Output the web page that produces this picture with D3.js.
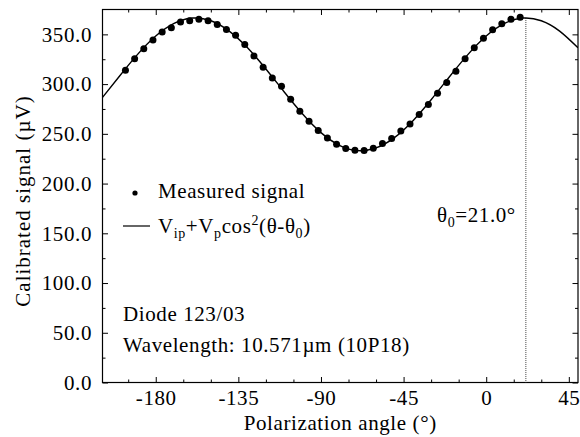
<!DOCTYPE html>
<html>
<head>
<meta charset="utf-8">
<script src="https://cdn.jsdelivr.net/npm/d3@7"></script>
<style>
  body { margin: 0; background: #fff; }
  svg { display: block; font-family: "Liberation Serif", "Times New Roman", serif; }
  svg text { letter-spacing: 0.6px; }
</style>
</head>
<body>
<svg id="chart" width="580" height="437"></svg>
<script>
// measured points (angle in deg, signal in µV)
const pointAngles = [-196.5,-191.5,-186.5,-181.5,-176.5,-171.5,-166.5,-161.5,-156.5,-151.5,
  -146.5,-141.5,-136.5,-131.5,-126.5,-121.5,-116.5,-111.5,-106.5,-101.5,
  -96.5,-91.5,-86.5,-81.5,-76.5,-71.5,-66.5,-61.5,-56.5,-51.5,
  -46.5,-41.5,-36.5,-31.5,-26.5,-21.5,-16.5,-11.5,-6.5,-1.5,
  3.5,8.5,13.5,18.5];
const pointValues = [313.8,325.6,335.6,344.3,352.3,356.7,362.4,363.8,365.1,363.8,
  360.0,355.0,349.0,339.7,328.2,316.9,306.1,297.8,284.7,272.7,
  262.6,253.3,245.9,239.5,235.2,233.5,233.2,235.5,240.2,245.3,
  252.9,259.9,269.4,279.4,290.7,301.5,312.8,325.6,336.6,346.0,
  354.7,360.7,365.1,367.1];

// fitted curve, sampled off the figure
const fitAngles = [-209,-200,-190,-180,-170,-160,-150,-140,-130,-120,-110,-100,-90,
  -80,-70,-60,-50,-40,-30,-20,-10,0,10,20,30,40,50];
const fitValues = [286.6,307.4,329.6,348.3,361.0,366.4,363.7,353.3,336.5,315.2,292.1,269.9,251.2,
  238.5,233.1,235.8,246.2,263.0,284.3,307.4,329.6,348.3,361.0,366.4,363.7,353.3,336.5];

const theta0Pos = 21.6;   // where the dotted line sits
const theta0Top = 366.4;

const xMajor = [-180,-135,-90,-45,0,45];
const xMinor = [-195,-165,-150,-120,-105,-75,-60,-30,-15,15,30];
const yMajor = [0,50,100,150,200,250,300,350];
const yMinor = [25,75,125,175,225,275,325];

const L = 102.5, R = 578, T = 9.5, B = 382.5;
const FS = 21;
const SERIF = '"Liberation Serif", "Times New Roman", serif';

const svg = d3.select('#chart');
const x = d3.scaleLinear().domain([-209, 50]).range([L, R]);
const y = d3.scaleLinear().domain([0, 375]).range([B, T]);

// ticks, all pointing inward
function ticks(axisFn, scale, vals, size, pos, labels) {
  const ax = axisFn(scale).tickValues(vals).tickSizeInner(-size).tickSizeOuter(0);
  if (!labels) ax.tickFormat('');
  const g = svg.append('g').attr('transform', pos).call(ax);
  g.select('.domain').remove();
  g.selectAll('line').attr('stroke', '#000').attr('stroke-width', 1);
  return g;
}

const xb = svg.append('g').attr('transform', `translate(0,${B})`)
  .call(d3.axisBottom(x).tickValues(xMajor).tickSizeInner(-5.5).tickSizeOuter(0)
    .tickFormat(d => String(d)));
xb.select('.domain').remove();
xb.attr('font-family', SERIF);
xb.selectAll('line').attr('stroke', '#000');
xb.selectAll('text').attr('y', 22.5).attr('dy', 0)
  .attr('font-size', FS).attr('fill', '#000').attr('font-family', SERIF);
ticks(d3.axisBottom, x, xMinor, 3, `translate(0,${B})`, false);
ticks(d3.axisTop, x, xMajor, 5.5, `translate(0,${T})`, false);
ticks(d3.axisTop, x, xMinor, 3, `translate(0,${T})`, false);

const yl = svg.append('g').attr('transform', `translate(${L},0)`)
  .call(d3.axisLeft(y).tickValues(yMajor).tickSizeInner(-5.5).tickSizeOuter(0)
    .tickPadding(10.5).tickFormat(d3.format('.1f')));
yl.select('.domain').remove();
yl.attr('font-family', SERIF);
yl.selectAll('line').attr('stroke', '#000');
yl.selectAll('text').attr('font-size', FS).attr('fill', '#000').attr('font-family', SERIF);
ticks(d3.axisLeft, y, yMinor, 3, `translate(${L},0)`, false);
ticks(d3.axisRight, y, yMajor, 5.5, `translate(${R},0)`, false);
ticks(d3.axisRight, y, yMinor, 3, `translate(${R},0)`, false);

// frame
svg.append('rect').attr('x', L).attr('y', T).attr('width', R - L).attr('height', B - T)
  .attr('fill', 'none').attr('stroke', '#000').attr('stroke-width', 1.2);

svg.append('clipPath').attr('id', 'clip')
  .append('rect').attr('x', L).attr('y', T).attr('width', R - L).attr('height', B - T);

// dotted marker at theta0
svg.append('line')
  .attr('x1', x(theta0Pos)).attr('x2', x(theta0Pos))
  .attr('y1', y(theta0Top)).attr('y2', B)
  .attr('stroke', '#444').attr('stroke-width', 1).attr('stroke-dasharray', '1,1');

// fit curve
const fit = fitAngles.map((a, i) => [a, fitValues[i]]);
svg.append('path').datum(fit)
  .attr('clip-path', 'url(#clip)')
  .attr('fill', 'none').attr('stroke', '#000').attr('stroke-width', 1.4)
  .attr('d', d3.line().x(d => x(d[0])).y(d => y(d[1])).curve(d3.curveNatural));

// measured points
svg.append('g').selectAll('circle')
  .data(pointAngles.map((a, i) => [a, pointValues[i]]))
  .join('circle')
  .attr('cx', d => x(d[0])).attr('cy', d => y(d[1])).attr('r', 3.5)
  .attr('fill', '#000');

// legend
svg.append('circle').attr('cx', 135).attr('cy', 193).attr('r', 2.6).attr('fill', '#000');
svg.append('text').attr('x', 158).attr('y', 198).attr('font-size', FS).text('Measured signal');
svg.append('line').attr('x1', 123).attr('x2', 150).attr('y1', 226).attr('y2', 226)
  .attr('stroke', '#000').attr('stroke-width', 1.2);

const fml = svg.append('text').attr('x', 158).attr('y', 233).attr('font-size', FS);
const SUB = 14;
const parts = [
  ['V', 0, FS], ['ip', 5, SUB], ['+V', -5, FS], ['p', 5, SUB], ['cos', -5, FS],
  ['2', -8, SUB], ['(θ-θ', 8, FS], ['0', 5, SUB], [')', -5, FS]
];
parts.forEach(p => fml.append('tspan').attr('dy', p[1]).attr('font-size', p[2]).text(p[0]));

const th = svg.append('text').attr('x', 437).attr('y', 222).attr('font-size', FS);
th.append('tspan').text('θ');
th.append('tspan').attr('dy', 5).attr('font-size', SUB).text('0');
th.append('tspan').attr('dy', -5).text('=21.0°');

svg.append('text').attr('x', 123).attr('y', 321).attr('font-size', FS).text('Diode 123/03');
svg.append('text').attr('x', 123).attr('y', 352).attr('font-size', FS)
  .text('Wavelength: 10.571µm (10P18)');

// axis titles
svg.append('text').attr('x', (L + R) / 2).attr('y', 430).attr('text-anchor', 'middle')
  .attr('font-size', FS).text('Polarization angle (°)');
svg.append('text').attr('transform', `translate(30,201) rotate(-90)`)
  .attr('text-anchor', 'middle').attr('font-size', FS).style('letter-spacing', '1px')
  .text('Calibrated signal (µV)');
</script>
</body>
</html>
